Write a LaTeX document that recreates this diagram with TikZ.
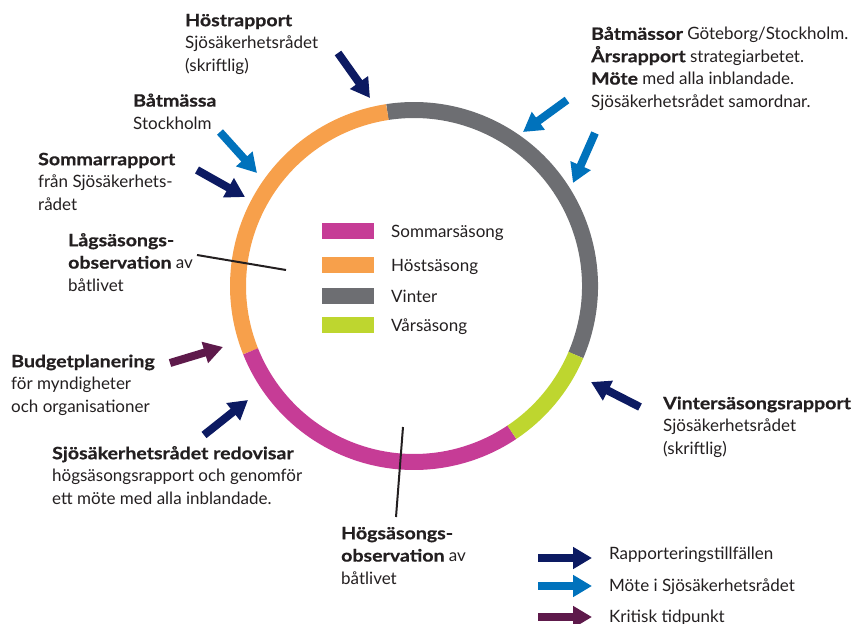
\documentclass[tikz,border=0pt]{standalone}
\usepackage{fontspec}
\setmainfont{Lato}[BoldFeatures={FakeStretch=1.15,FakeBold=0.6}]
\usetikzlibrary{arrows.meta}
\definecolor{cSom}{HTML}{C63C96}
\definecolor{cHost}{HTML}{F7A04B}
\definecolor{cVin}{HTML}{6D6E72}
\definecolor{cVar}{HTML}{BED62F}
\definecolor{cNavy}{HTML}{0C1A62}
\definecolor{cBlue}{HTML}{0072BC}
\definecolor{cPurp}{HTML}{5E1A4B}
\definecolor{cTxt}{HTML}{231F20}
\begin{document}
\begin{tikzpicture}[x=1pt,y=1pt,
  ring/.style={line width=16pt},
  lbl/.style={anchor=base west, align=left, inner sep=0pt, text=cTxt, font=\fontsize{17}{22.4}\selectfont},
  bigarrow/.style={line width=8pt, -{Triangle[length=19pt,width=21pt]}},
  keybox/.style={minimum width=52pt, minimum height=16pt, inner sep=0pt, draw=none},
  marker/.style={line width=2pt, draw=cTxt}]
\useasboundingbox (0,0) rectangle (852,-624);
\coordinate (C) at (414,-286);
% ring
\draw[ring, cVin]  ([shift={(-23.1:176)}]C) arc[start angle=-23.1, end angle=98.7, radius=176];
\draw[ring, cHost] ([shift={(98.7:176)}]C) arc[start angle=98.7, end angle=201.8, radius=176];
\draw[ring, cSom]  ([shift={(201.8:176)}]C) arc[start angle=201.8, end angle=303.8, radius=176];
\draw[ring, cVar]  ([shift={(303.8:176)}]C) arc[start angle=303.8, end angle=336.9, radius=176];
% marker lines
\coordinate (l1) at (197,-255); \coordinate (l2) at (286,-270);
\draw[marker] (l1) -- (l2);
\coordinate (h1) at (403,-427); \coordinate (h2) at (396,-517);
\draw[marker] (h1) -- (h2);
% labels (anchored at the baseline of the last line)
\node[lbl] (host) at (185,-71) {\textbf{Höstrapport}\\Sjösäkerhetsrådet\\(skriftlig)};
\node[lbl] (batm) at (133,-129) {\textbf{Båtmässa}\\Stockholm};
\node[lbl] (somr) at (38,-210) {\textbf{Sommarrapport}\\från Sjösäkerhets-\\rådet};
\node[lbl] (tr) at (591,-107) {\textbf{Båtmässor} Göteborg/Stockholm.\\\textbf{Årsrapport} strategiarbetet.\\\textbf{Möte} med alla inblandade.\\Sjösäkerhetsrådet samordnar.};
\node[lbl] (lag) at (68,-291) {\textbf{Lågsäsongs-}\\\textbf{observation} av\\båtlivet};
\node[lbl] (bud) at (11,-412) {\textbf{Budgetplanering}\\för myndigheter\\och organisationer};
\node[lbl] (red) at (52,-504) {\textbf{Sjösäkerhetsrådet redovisar}\\högsäsongsrapport och genomför\\ett möte med alla inblandade.};
\node[lbl] (vin) at (663,-454) {\textbf{Vintersäsongsrapport}\\Sjösäkerhetsrådet\\(skriftlig)};
\node[lbl] (hog) at (341,-584) {\textbf{Högsäsongs-}\\\textbf{observation} av\\båtlivet};
% arrows
\coordinate (a1s) at (338,-53);  \coordinate (a1e) at (370,-98);
\coordinate (a2s) at (220,-132); \coordinate (a2e) at (257,-173);
\coordinate (a3s) at (197,-170); \coordinate (a3e) at (245,-197);
\coordinate (a4s) at (567,-100); \coordinate (a4e) at (523,-132);
\coordinate (a5s) at (595,-133); \coordinate (a5e) at (573,-183);
\coordinate (a6s) at (640,-407); \coordinate (a6e) at (591,-382);
\coordinate (a7s) at (170,-363); \coordinate (a7e) at (223,-347);
\coordinate (a8s) at (204,-435); \coordinate (a8e) at (248,-400);
\draw[bigarrow, cNavy] (a1s) -- (a1e);
\draw[bigarrow, cBlue] (a2s) -- (a2e);
\draw[bigarrow, cNavy] (a3s) -- (a3e);
\draw[bigarrow, cBlue] (a4s) -- (a4e);
\draw[bigarrow, cBlue] (a5s) -- (a5e);
\draw[bigarrow, cNavy] (a6s) -- (a6e);
\draw[bigarrow, cPurp] (a7s) -- (a7e);
\draw[bigarrow, cNavy] (a8s) -- (a8e);
% season legend
\node[keybox, fill=cSom]  (k1) at (348,-231) {};
\node[keybox, fill=cHost] (k2) at (348,-265) {};
\node[keybox, fill=cVin]  (k3) at (348,-296) {};
\node[keybox, fill=cVar]  (k4) at (348,-325) {};
\node[lbl] (t1) at (391,-237) {Sommarsäsong};
\node[lbl] (t2) at (391,-271) {Höstsäsong};
\node[lbl] (t3) at (391,-302) {Vinter};
\node[lbl] (t4) at (391,-331) {Vårsäsong};
% arrow legend
\coordinate (g1s) at (538,-558); \coordinate (g1e) at (592,-558);
\coordinate (g2s) at (538,-586); \coordinate (g2e) at (592,-586);
\coordinate (g3s) at (538,-617); \coordinate (g3e) at (592,-617);
\draw[bigarrow, cNavy] (g1s) -- (g1e);
\draw[bigarrow, cBlue] (g2s) -- (g2e);
\draw[bigarrow, cPurp] (g3s) -- (g3e);
\node[lbl] (r1) at (609,-559) {Rapporteringstillfällen};
\node[lbl] (r2) at (609,-591) {Möte i Sjösäkerhetsrådet};
\node[lbl] (r3) at (609,-622) {Kritisk tidpunkt};
\end{tikzpicture}
\end{document}
